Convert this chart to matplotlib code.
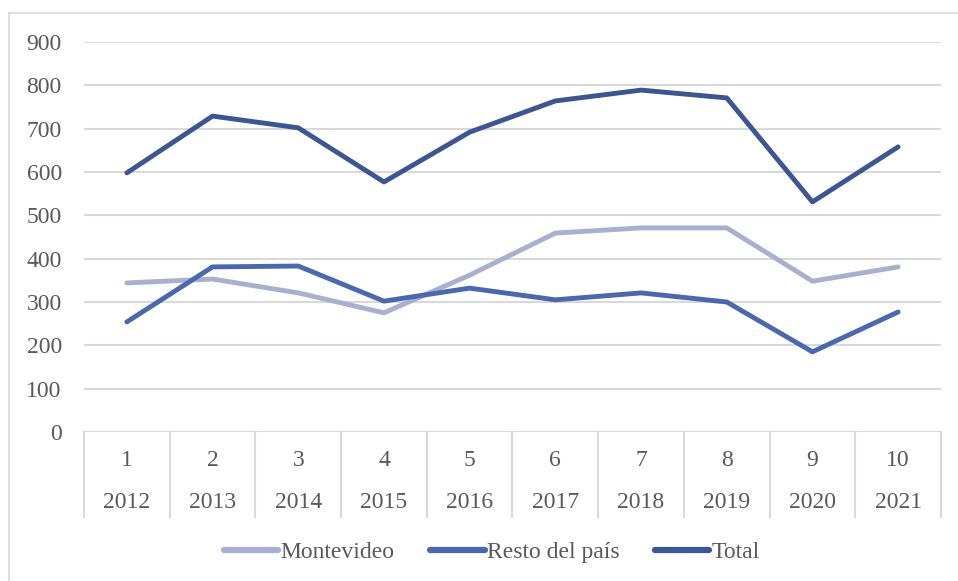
import matplotlib
matplotlib.use("Agg")
import matplotlib.pyplot as plt
from matplotlib.lines import Line2D
import matplotlib.transforms as mtransforms

idx = ["1", "2", "3", "4", "5", "6", "7", "8", "9", "10"]
years = ["2012", "2013", "2014", "2015", "2016", "2017", "2018", "2019", "2020", "2021"]
montevideo = [344, 353, 321, 275, 362, 459, 471, 471, 348, 381]
resto = [254, 381, 383, 302, 332, 305, 321, 300, 185, 277]
total = [598, 729, 702, 577, 692, 764, 789, 771, 531, 658]
yticks = [0, 100, 200, 300, 400, 500, 600, 700, 800, 900]

plt.rcParams['font.family'] = ['Liberation Serif', 'DejaVu Serif']
W, H = 958, 581
fig = plt.figure(figsize=(W / 100, H / 100), dpi=100)
txt = '#595959'
grid = '#D9D9D9'
fs = 17

left, right, top, bottom = 84, 941, 42, 432
ax = fig.add_axes([left / W, 1 - bottom / H, (right - left) / W, (bottom - top) / H])

x = list(range(1, len(years) + 1))
c_m, c_r, c_t = '#A9B0CF', '#4A68AE', '#3D5591'
ax.plot(x, montevideo, color=c_m, lw=3.5, solid_capstyle='round', solid_joinstyle='round', label='Montevideo', zorder=3)
ax.plot(x, resto, color=c_r, lw=3.5, solid_capstyle='round', solid_joinstyle='round', label='Resto del país', zorder=4)
ax.plot(x, total, color=c_t, lw=3.5, solid_capstyle='round', solid_joinstyle='round', label='Total', zorder=5)

ax.set_xlim(0.5, len(years) + 0.5)
ax.set_ylim(0, 900)
ax.set_yticks(yticks)
ax.set_yticklabels([str(v) for v in yticks], fontsize=fs, color=txt)
ax.tick_params(axis='y', length=0, pad=16)
ax.set_xticks([])
for s in ax.spines.values():
    s.set_visible(False)
ax.yaxis.grid(True, color=grid, lw=1.5)
ax.set_axisbelow(True)

trans = mtransforms.blended_transform_factory(ax.transData, ax.transAxes)
sep_bottom = -(517 - bottom) / (bottom - top)
for b in [i + 0.5 for i in range(0, len(years) + 1)]:
    ax.plot([b, b], [0, sep_bottom], color=grid, lw=1.5, transform=trans, clip_on=False)
y_num = -(461 - bottom) / (bottom - top)
y_year = -(503 - bottom) / (bottom - top)
for xi, n, yr in zip(x, idx, years):
    ax.text(xi, y_num, n, transform=trans, ha='center', va='center', fontsize=fs, color=txt)
    ax.text(xi, y_year, yr, transform=trans, ha='center', va='center', fontsize=fs, color=txt)

handles = [Line2D([0], [0], color=c, lw=4.5, solid_capstyle='round') for c in (c_m, c_r, c_t)]
fig.legend(handles, ['Montevideo', 'Resto del país', 'Total'], loc='center',
           bbox_to_anchor=(492 / W, 1 - 552 / H), ncol=3, frameon=False,
           fontsize=fs, labelcolor=txt, handlelength=2.3, handletextpad=0.1, columnspacing=1.5)

# outer chart border
fig.add_artist(Line2D([9 / W, 1], [1 - 13 / H, 1 - 13 / H], color=grid, lw=1.2, transform=fig.transFigure))
fig.add_artist(Line2D([9 / W, 9 / W], [1 - 13 / H, 0], color=grid, lw=1.2, transform=fig.transFigure))

fig.savefig('out.png', dpi=100)
